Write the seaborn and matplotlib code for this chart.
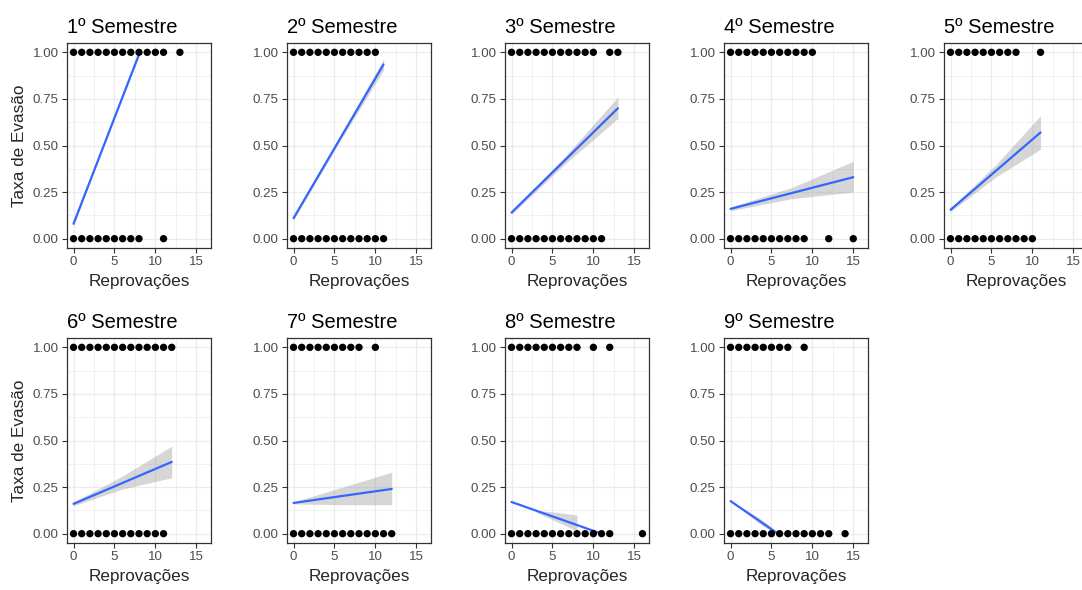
import matplotlib
matplotlib.use("Agg")
import matplotlib.pyplot as plt
import seaborn as sns
import pandas as pd

# dados (um painel por semestre)
semestres = ["1º Semestre", "2º Semestre", "3º Semestre", "4º Semestre", "5º Semestre",
             "6º Semestre", "7º Semestre", "8º Semestre", "9º Semestre"]

# reprovações dos alunos que evadiram (y = 1) e dos que ficaram (y = 0)
evadiu_x = [
    [0, 1, 2, 3, 4, 5, 6, 7, 8, 9, 10, 11, 13],
    [0, 1, 2, 3, 4, 5, 6, 7, 8, 9, 10],
    [0, 1, 2, 3, 4, 5, 6, 7, 8, 9, 10, 12, 13],
    [0, 1, 2, 3, 4, 5, 6, 7, 8, 9, 10],
    [0, 1, 2, 3, 4, 5, 6, 7, 8, 11],
    [0, 1, 2, 3, 4, 5, 6, 7, 8, 9, 10, 11, 12],
    [0, 1, 2, 3, 4, 5, 6, 7, 8, 10],
    [0, 1, 2, 3, 4, 5, 6, 7, 8, 10, 12],
    [0, 1, 2, 3, 4, 5, 6, 7, 9],
]
ficou_x = [
    [0, 1, 2, 3, 4, 5, 6, 7, 8, 11],
    [0, 1, 2, 3, 4, 5, 6, 7, 8, 9, 10, 11],
    [0, 1, 2, 3, 4, 5, 6, 7, 8, 9, 10, 11],
    [0, 1, 2, 3, 4, 5, 6, 7, 8, 9, 12, 15],
    [0, 1, 2, 3, 4, 5, 6, 7, 8, 9, 10],
    [0, 1, 2, 3, 4, 5, 6, 7, 8, 9, 10, 11],
    [0, 1, 2, 3, 4, 5, 6, 7, 8, 9, 10, 11, 12],
    [0, 1, 2, 3, 4, 5, 6, 7, 8, 9, 10, 11, 12, 16],
    [0, 1, 2, 3, 4, 5, 6, 7, 8, 9, 10, 11, 12, 14],
]

# reta ajustada (início e fim)
reta_x = [[0, 8.1], [0, 11], [0, 13], [0, 15], [0, 11], [0, 12], [0, 12], [0, 11], [0, 5.8]]
reta_y = [[0.08, 1.0], [0.11, 0.935], [0.14, 0.70], [0.16, 0.33], [0.155, 0.57],
          [0.16, 0.385], [0.165, 0.24], [0.17, 0.0], [0.175, 0.0]]

# faixa de confiança
faixa_x = [[0, 4, 8.1], [0, 5.5, 11], [0, 6.5, 13], [0, 7.5, 15], [0, 5.5, 11],
           [0, 6, 12], [0, 6, 12], [3, 5.5, 8], [1.5, 3.5, 5.0]]
faixa_lo = [[0.07, 0.535, 0.99], [0.10, 0.51, 0.905], [0.13, 0.40, 0.645], [0.15, 0.215, 0.25],
            [0.145, 0.33, 0.48], [0.15, 0.24, 0.30], [0.16, 0.155, 0.155],
            [0.115, 0.065, 0.015], [0.125, 0.055, 0.012]]
faixa_hi = [[0.09, 0.545, 1.0], [0.12, 0.535, 0.965], [0.15, 0.44, 0.76], [0.17, 0.275, 0.415],
            [0.165, 0.395, 0.66], [0.17, 0.31, 0.47], [0.17, 0.25, 0.33],
            [0.125, 0.115, 0.10], [0.135, 0.085, 0.035]]

sns.set_theme(style="white")
plt.rcParams["font.family"] = ["Liberation Sans", "DejaVu Sans"]

W, H = 1082, 590
fig = plt.figure(figsize=(W / 100, H / 100), dpi=100)

lefts = [67, 287, 505, 724, 944]
tops = [43, 338]
aw, ah = 144, 205

for i, titulo in enumerate(semestres):
    row, col = divmod(i, 5)
    l, t = lefts[col], tops[row]
    ax = fig.add_axes([l / W, 1 - (t + ah) / H, aw / W, ah / H])

    df = pd.DataFrame({
        "Reprovações": evadiu_x[i] + ficou_x[i],
        "Evasão": [1.0] * len(evadiu_x[i]) + [0.0] * len(ficou_x[i]),
    })

    ax.fill_between(faixa_x[i], faixa_lo[i], faixa_hi[i], color="#999999", alpha=0.4,
                    linewidth=0, zorder=2)
    ax.plot(reta_x[i], reta_y[i], color="#3366FF", lw=1.6, zorder=3)
    sns.scatterplot(data=df, x="Reprovações", y="Evasão", ax=ax, color="black",
                    s=28, edgecolor="none", zorder=4)

    ax.set_xlim(-0.8, 16.8)
    ax.set_ylim(-0.05, 1.05)
    ax.set_xticks([0, 5, 10, 15])
    ax.set_xticks([2.5, 7.5, 12.5], minor=True)
    ax.set_yticks([0, 0.25, 0.5, 0.75, 1.0])
    ax.set_yticks([0.125, 0.375, 0.625, 0.875], minor=True)
    ax.set_yticklabels(["0.00", "0.25", "0.50", "0.75", "1.00"])
    ax.grid(True, which="major", color="#EBEBEB", lw=0.9, zorder=0)
    ax.grid(True, which="minor", color="#EBEBEB", lw=0.5, zorder=0)
    ax.set_axisbelow(True)
    for s in ax.spines.values():
        s.set_color("#333333")
        s.set_linewidth(0.9)
    ax.tick_params(axis="both", which="major", length=3.5, width=0.8, color="#333333",
                   labelsize=9.6, labelcolor="#4D4D4D", pad=2.5, bottom=True, left=True)
    ax.tick_params(axis="both", which="minor", length=0)

    ax.set_title(titulo, loc="left", fontsize=14.5, pad=7, color="black")
    ax.set_xlabel("Reprovações", fontsize=12.3, labelpad=4)
    if col == 0:
        ax.set_ylabel("Taxa de Evasão", fontsize=12.3, labelpad=4)
    else:
        ax.set_ylabel("")

fig.savefig("out.png", dpi=100)
